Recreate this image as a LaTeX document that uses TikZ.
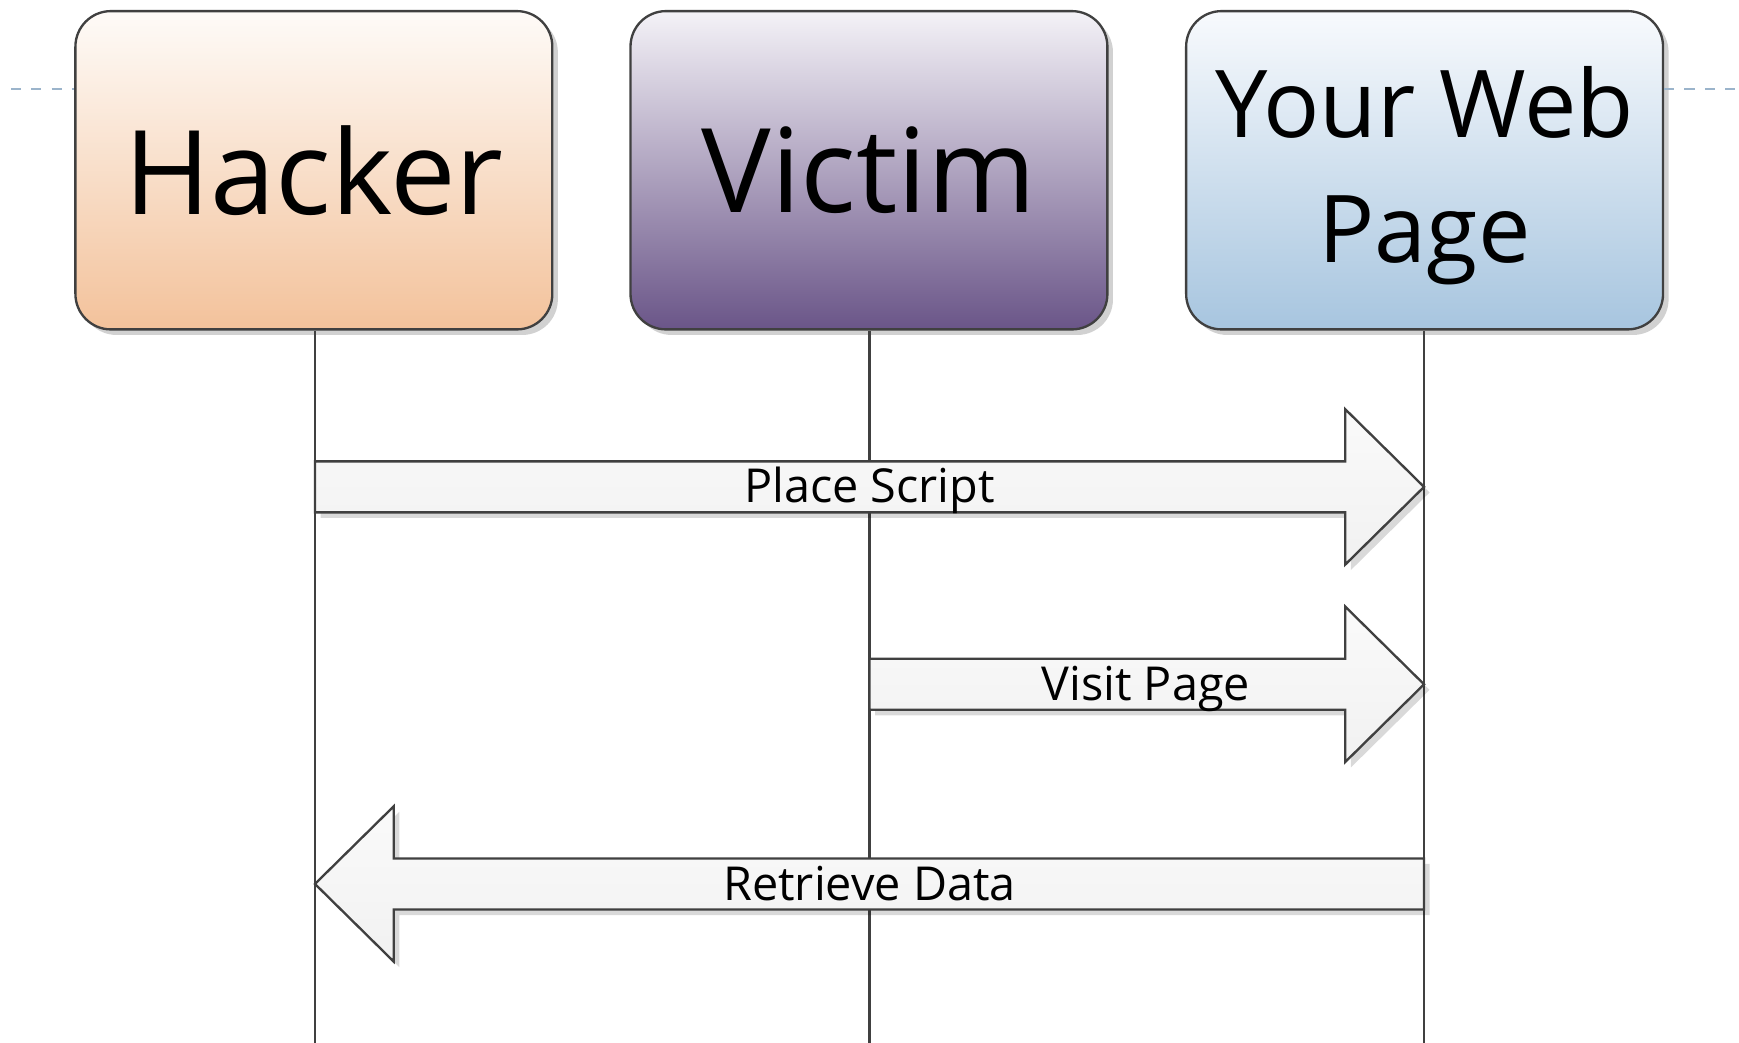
\documentclass[tikz,border=0pt]{standalone}
\usepackage{fontspec}
\setmainfont{Open Sans}
\usetikzlibrary{shadows,calc}
\definecolor{edge}{HTML}{404040}
\definecolor{hackTop}{HTML}{FEFBF8}
\definecolor{hackBot}{HTML}{F3C29B}
\definecolor{vicTop}{HTML}{F4F2F7}
\definecolor{vicBot}{HTML}{6A5588}
\definecolor{webTop}{HTML}{F8FAFD}
\definecolor{webBot}{HTML}{A7C5DF}
\definecolor{dashc}{HTML}{9BB4CB}
\definecolor{arrTop}{HTML}{FAFAFA}
\definecolor{arrBot}{HTML}{F1F1F1}
\tikzset{
  actor/.style={draw=edge, line width=0.6pt, rounded corners=0.32cm,
    minimum width=4.30cm, minimum height=2.87cm, align=center, inner sep=0pt,
    drop shadow={shadow xshift=0.05cm, shadow yshift=-0.05cm, opacity=0.18, fill=black}},
  life/.style={draw=edge, line width=0.55pt},
  blockarrow/.style={draw=edge, line width=0.6pt, top color=arrTop, bottom color=arrBot,
    drop shadow={shadow xshift=0.05cm, shadow yshift=-0.05cm, opacity=0.15, fill=black}},
  msg/.style={font=\fontsize{12}{14}\selectfont, inner sep=0pt, anchor=base},
  guide/.style={draw=dashc, line width=0.45pt, dash pattern=on 2.6pt off 2.6pt}
}
\begin{document}
\begin{tikzpicture}
\useasboundingbox (0,0) rectangle (15.68,-9.40);
% actors
\node[actor, top color=hackTop, bottom color=hackBot, font=\fontsize{30}{36}\selectfont] (hacker) at (2.83,-1.535) {Hacker};
\node[actor, top color=vicTop, bottom color=vicBot, font=\fontsize{30}{36}\selectfont] (victim) at (7.835,-1.535) {Victim};
\node[actor, top color=webTop, bottom color=webBot] (web) at (12.845,-1.535) {};
\node[align=center, inner sep=0pt, font=\fontsize{24}{31.9}\selectfont] (webtext) at ($(web.center)+(0,-0.05)$) {Your Web\\Page};
% dashed guide
\coordinate (gl) at (0.10,-0.80);
\coordinate (gr) at (15.68,-0.80);
\draw[guide] (gl) -- (gl -| hacker.west);
\draw[guide] (gl -| web.east) -- (gr);
% lifelines
\coordinate (hend) at (2.84,-9.40);
\coordinate (vend) at (7.84,-9.40);
\coordinate (wend) at (12.84,-9.40);
\draw[life] (hend |- hacker.south) -- (hend);
\draw[life] (vend |- victim.south) -- (vend);
\draw[life] (wend |- web.south) -- (wend);
% message anchors
\coordinate (h1) at (2.84,-4.39);
\coordinate (w1) at (12.84,-4.39);
\coordinate (v2) at (7.84,-6.17);
\coordinate (w2) at (12.84,-6.17);
\coordinate (w3) at (12.84,-7.97);
\coordinate (h3) at (2.84,-7.97);
% Place Script
\draw[blockarrow] ($(h1)+(0,0.23)$) -- ($(w1)+(-0.71,0.23)$) -- ($(w1)+(-0.71,0.70)$) -- (w1)
  -- ($(w1)+(-0.71,-0.70)$) -- ($(w1)+(-0.71,-0.23)$) -- ($(h1)+(0,-0.23)$) -- cycle;
\node[msg] (m1) at (7.84,-4.535) {Place Script};
% Visit Page
\draw[blockarrow] ($(v2)+(0,0.23)$) -- ($(w2)+(-0.71,0.23)$) -- ($(w2)+(-0.71,0.70)$) -- (w2)
  -- ($(w2)+(-0.71,-0.70)$) -- ($(w2)+(-0.71,-0.23)$) -- ($(v2)+(0,-0.23)$) -- cycle;
\node[msg] (m2) at (10.33,-6.315) {Visit Page};
% Retrieve Data
\draw[blockarrow] ($(w3)+(0,0.23)$) -- ($(h3)+(0.71,0.23)$) -- ($(h3)+(0.71,0.70)$) -- (h3)
  -- ($(h3)+(0.71,-0.70)$) -- ($(h3)+(0.71,-0.23)$) -- ($(w3)+(0,-0.23)$) -- cycle;
\node[msg] (m3) at (7.84,-8.115) {Retrieve Data};
\end{tikzpicture}
\end{document}
